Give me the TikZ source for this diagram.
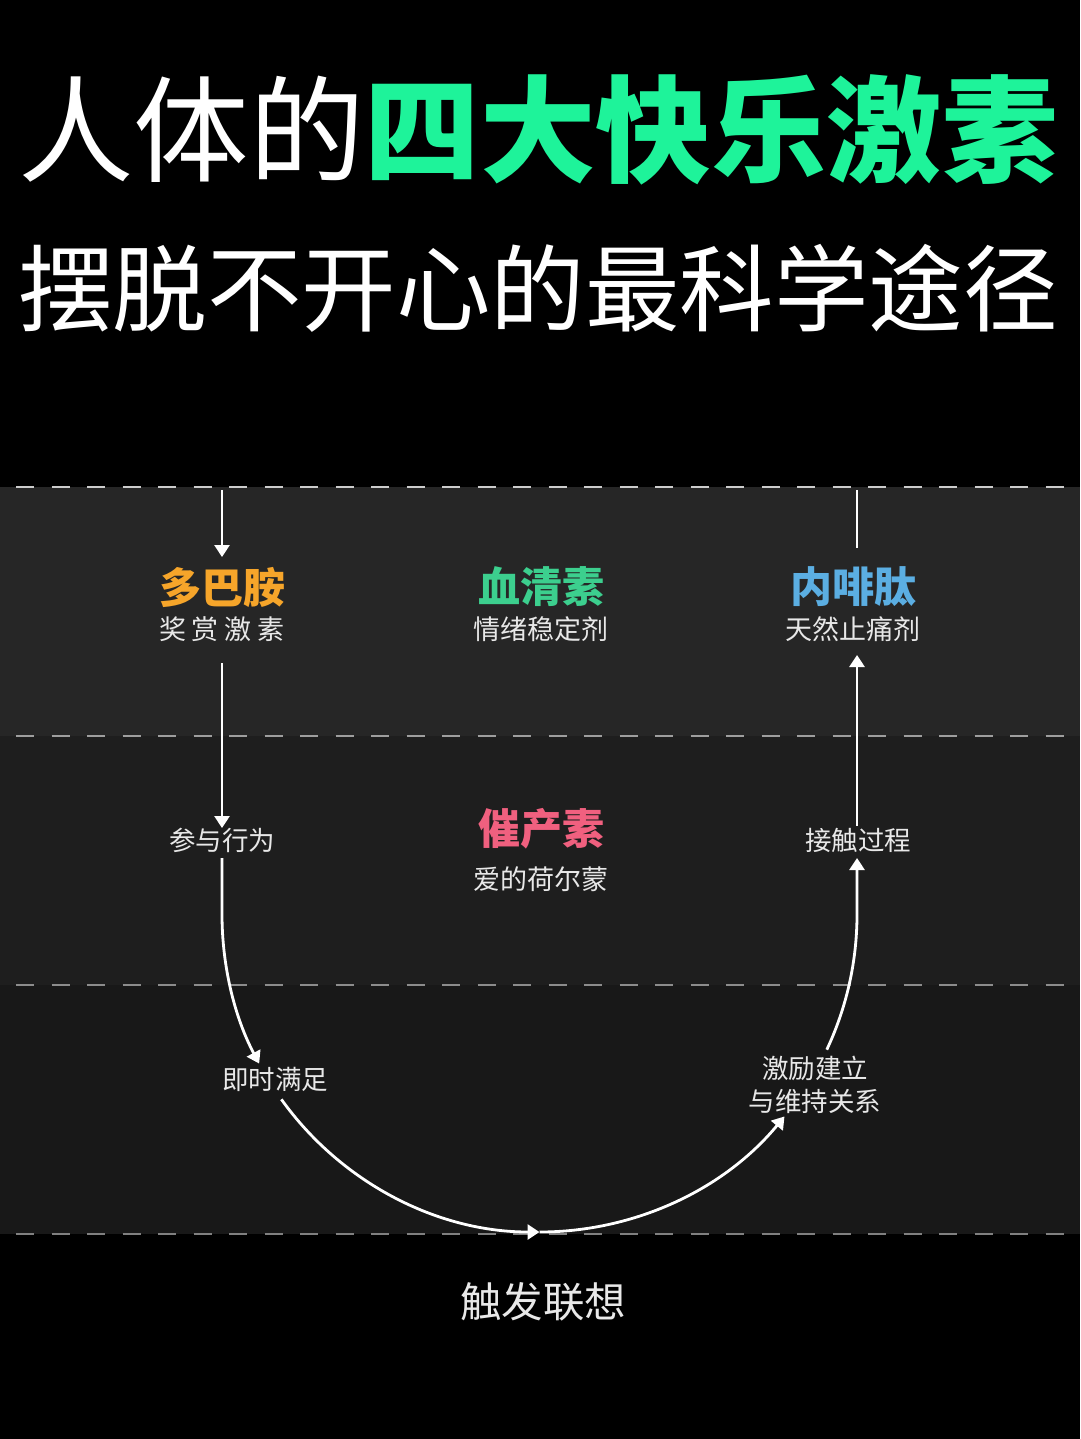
\documentclass[tikz,border=0pt]{standalone}
\usepackage{fontspec}
\usetikzlibrary{arrows.meta,calc}
\newfontfamily\cjk{Noto Sans CJK SC}
\definecolor{titlegreen}{HTML}{1EF39A}
\definecolor{serogreen}{HTML}{3CCF8E}
\definecolor{dopaorange}{HTML}{F6A52A}
\definecolor{endoblue}{HTML}{5BAEE2}
\definecolor{oxypink}{HTML}{F0607F}
\definecolor{bandA}{HTML}{262626}
\definecolor{bandB}{HTML}{1E1E1E}
\definecolor{bandC}{HTML}{181818}
\definecolor{txt}{HTML}{E8E8E8}
\tikzset{
  sep/.style={draw=#1,line width=2.2pt,dash pattern=on 18pt off 17.5pt,dash phase=-16pt},
  hname/.style={font=\cjk\fontsize{42}{46}\selectfont\bfseries,inner sep=0pt,anchor=center},
  hsub/.style={font=\cjk\fontsize{27}{31}\selectfont,text=txt,inner sep=0pt,anchor=center},
  steplabel/.style={font=\cjk\fontsize{26.5}{30}\selectfont,text=txt,inner sep=0pt,anchor=center,align=center},
  flow/.style={draw=white,line width=2.8pt},
  flowarr/.style={flow,-{Triangle[width=15pt,length=12pt]}},
}
\begin{document}
\begin{tikzpicture}[x=1pt,y=1pt]
\useasboundingbox (0,0) rectangle (1080,-1439);
\fill[black] (0,0) rectangle (1080,-1439);
% bands
\fill[bandA] (0,-487) rectangle (1080,-736);
\fill[bandB] (0,-736) rectangle (1080,-985);
\fill[bandC] (0,-985) rectangle (1080,-1234);
\draw[sep={white!80!black}] (0,-487) -- (1080,-487);
\draw[sep={white!62!black}] (0,-736) -- (1080,-736);
\draw[sep={white!55!black}] (0,-985) -- (1080,-985);
\draw[sep={white!50!black}] (0,-1234) -- (1080,-1234);
% titles
\node[inner sep=0pt,anchor=west,font=\cjk\fontsize{115.5}{120}\selectfont] (t1) at (18,-130)
  {\textcolor{white}{人体的}\textcolor{titlegreen}{\bfseries 四大快乐激素}};
\node[inner sep=0pt,anchor=west,font=\cjk\fontsize{94.5}{100}\selectfont,text=white] (t2) at (18,-288)
  {摆脱不开心的最科学途径};
% hormone nodes
\node[hname,text=dopaorange] (dopa) at (222,-587) {多巴胺};
\node[hsub] (dopas) at (222,-629) {奖\hspace{6pt}赏\hspace{6pt}激\hspace{6pt}素};
\node[hname,text=serogreen] (sero) at (541,-587) {血清素};
\node[hsub] (seros) at (541,-629) {情绪稳定剂};
\node[hname,text=endoblue] (endo) at (853,-587) {内啡肽};
\node[hsub] (endos) at (853,-629) {天然止痛剂};
\node[hname,text=oxypink] (oxy) at (541,-829) {催产素};
\node[hsub] (oxys) at (541,-879) {爱的荷尔蒙};
% step labels
\node[steplabel] (s1) at (222,-840) {参与行为};
\node[steplabel] (s2) at (275,-1079) {即时满足};
\node[steplabel,font=\cjk\fontsize{41.5}{45}\selectfont] (s3) at (543,-1302) {触发联想};
\node[steplabel,font=\cjk\fontsize{26.5}{33}\selectfont] (s4) at (815,-1085) {激励建立\\与维持关系};
\node[steplabel] (s5) at (858,-840) {接触过程};
% connectors
\coordinate (cen) at (539.5,-914.5);
\coordinate (lt) at (222,-490);
\coordinate (lta) at (222,-557);
\coordinate (lm) at (222,-663);
\coordinate (lma) at (222,-828);
\coordinate (ls) at (222,-858);
\coordinate (rt) at (857,-490);
\coordinate (rte) at (857,-548);
\coordinate (rm) at (857,-826);
\coordinate (rma) at (857,-655);
\coordinate (rs) at (857,-858);
\draw[flowarr] (lt) -- (lta);
\draw[flowarr] (lm) -- (lma);
\draw[flowarr] (ls) -- (222,-914.5) arc[start angle=180,end angle=208,radius=317.5pt];
\draw[flowarr] ($(cen)+(215.6:317.5pt)$) arc[start angle=215.6,end angle=270,radius=317.5pt];
\draw[flowarr] ($(cen)+(270:317.5pt)$) arc[start angle=270,end angle=320.5,radius=317.5pt];
\draw[flowarr] ($(cen)+(334.8:317.5pt)$) arc[start angle=334.8,end angle=360,radius=317.5pt] -- (rs);
\draw[flowarr] (rm) -- (rma);
\draw[flow] (rt) -- (rte);
\end{tikzpicture}
\end{document}
